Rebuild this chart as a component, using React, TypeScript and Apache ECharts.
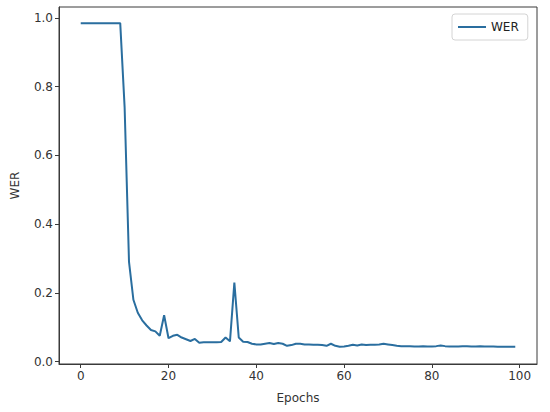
import React, { useEffect, useRef } from "react";
import * as echarts from "echarts";

const epochs: number[] = Array.from({ length: 100 }, (_, i) => i);
const wer: number[] = [
  0.985, 0.985, 0.985, 0.985, 0.985, 0.985, 0.985, 0.985, 0.985, 0.985,
  0.74, 0.29, 0.18, 0.142, 0.12, 0.105, 0.092, 0.088, 0.075, 0.135,
  0.068, 0.075, 0.078, 0.07, 0.065, 0.06, 0.066, 0.055, 0.056, 0.056,
  0.056, 0.056, 0.057, 0.07, 0.059, 0.23, 0.07, 0.058, 0.057, 0.052,
  0.05, 0.05, 0.052, 0.054, 0.051, 0.054, 0.052, 0.046, 0.048, 0.052,
  0.052, 0.05, 0.05, 0.049, 0.049, 0.048, 0.046, 0.052, 0.046, 0.043,
  0.044, 0.046, 0.049, 0.047, 0.05, 0.048, 0.049, 0.049, 0.05, 0.052,
  0.05, 0.048, 0.046, 0.045, 0.045, 0.045, 0.044, 0.044, 0.045, 0.044,
  0.044, 0.045, 0.047, 0.045, 0.044, 0.044, 0.044, 0.045, 0.045, 0.044,
  0.044, 0.045, 0.044, 0.044, 0.044, 0.043, 0.043, 0.043, 0.043, 0.043,
];
const xTicks: number[] = [0, 20, 40, 60, 80, 100];
const yTicks: number[] = [0, 0.2, 0.4, 0.6, 0.8, 1.0];

const FONT = "DejaVu Sans";
const AXIS_COLOR = "#3a3a3a";
const TEXT_COLOR = "#333333";

export default function App() {
  const ref = useRef<HTMLDivElement>(null);
  useEffect(() => {
    if (!ref.current) return;
    const chart = echarts.init(ref.current, undefined, { renderer: "svg" });
    chart.setOption({
      animation: false,
      backgroundColor: "#ffffff",
      grid: {
        left: 59,
        right: 13,
        top: 7,
        bottom: 48,
        show: true,
        borderColor: AXIS_COLOR,
        borderWidth: 1,
        backgroundColor: "transparent",
      },
      legend: {
        data: ["WER"],
        left: 452,
        top: 14,
        icon: "rect",
        itemWidth: 28,
        itemHeight: 2,
        itemGap: 8,
        padding: [7, 9, 7, 6],
        borderColor: "#d4d4d4",
        borderWidth: 1,
        borderRadius: 3,
        backgroundColor: "#ffffff",
        textStyle: { fontFamily: FONT, fontSize: 12, color: "#222" },
      },
      xAxis: {
        type: "value",
        min: -4.95,
        max: 103.95,
        name: "Epochs",
        nameLocation: "middle",
        nameGap: 28,
        nameTextStyle: { fontFamily: FONT, fontSize: 12, color: TEXT_COLOR },
        axisLine: { show: true, onZero: false, lineStyle: { color: AXIS_COLOR, width: 1 } },
        axisTick: {
          show: true,
          length: 4,
          customValues: xTicks,
          lineStyle: { color: AXIS_COLOR },
        },
        axisLabel: {
          customValues: xTicks,
          fontFamily: FONT,
          fontSize: 12,
          color: TEXT_COLOR,
          margin: 6,
        },
        splitLine: { show: false },
      },
      yAxis: {
        type: "value",
        min: -0.007,
        max: 1.032,
        name: "WER",
        nameLocation: "middle",
        nameGap: 38,
        nameRotate: 90,
        nameTextStyle: { fontFamily: FONT, fontSize: 12, color: TEXT_COLOR },
        axisLine: { show: true, onZero: false, lineStyle: { color: AXIS_COLOR, width: 1 } },
        axisTick: {
          show: true,
          length: 4,
          customValues: yTicks,
          lineStyle: { color: AXIS_COLOR },
        },
        axisLabel: {
          customValues: yTicks,
          fontFamily: FONT,
          fontSize: 12,
          color: TEXT_COLOR,
          margin: 6,
          formatter: (v: number) => v.toFixed(1),
        },
        splitLine: { show: false },
      },
      series: [
        {
          name: "WER",
          type: "line",
          data: epochs.map((e, i) => [e, wer[i]]),
          showSymbol: false,
          symbol: "none",
          color: "#2a6e9f",
          lineStyle: { color: "#2a6e9f", width: 2 },
        },
      ],
    });
    return () => chart.dispose();
  }, []);
  return (
    <div
      ref={ref}
      style={{ position: "absolute", left: 0, top: 0, width: 550, height: 412 }}
    />
  );
}
